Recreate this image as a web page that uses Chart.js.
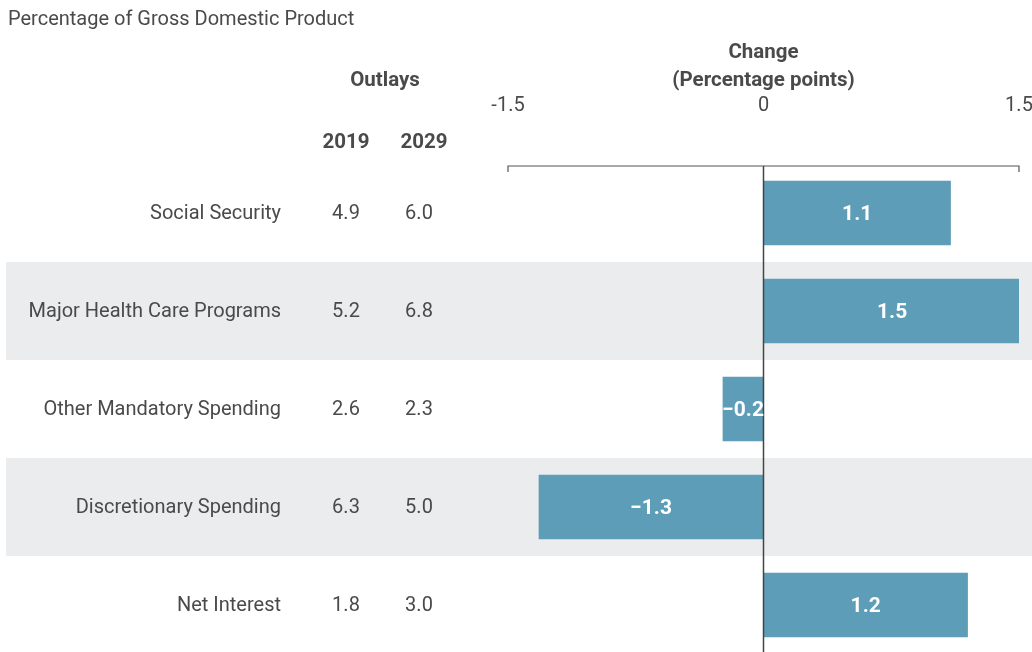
<!DOCTYPE html>
<html>
<head>
<meta charset="utf-8">
<script src="https://cdn.jsdelivr.net/npm/chart.js@4"></script>
<style>
  html, body { margin: 0; padding: 0; background: #fff; overflow: hidden; }
  #wrap { width: 1032px; height: 654px; position: relative; }
</style>
</head>
<body>
<div id="wrap"><canvas id="chart"></canvas></div>
<script>
// data
const categories = ["Social Security", "Major Health Care Programs", "Other Mandatory Spending", "Discretionary Spending", "Net Interest"];
const outlays2019 = ["4.9", "5.2", "2.6", "6.3", "1.8"];
const outlays2029 = ["6.0", "6.8", "2.3", "5.0", "3.0"];
const changeValues = [1.1, 1.51, -0.24, -1.32, 1.2];
const changeLabels = ["1.1", "1.5", "\u22120.2", "\u22121.3", "1.2"];
const tickValues = [-1.5, 0, 1.5];
const tickLabels = ["-1.5", "0", "1.5"];

const TEXT = "#4a4a4a";
const FONT = "Roboto, 'Open Sans', sans-serif";
const BAR = "#5e9db7";
const SHADE = "#ebeced";

// shaded rows behind every other category
const shadePlugin = {
  id: "shade",
  beforeDatasetsDraw(chart) {
    const ctx = chart.ctx;
    const y = chart.scales.y;
    const step = y.getPixelForValue(1) - y.getPixelForValue(0);
    ctx.save();
    ctx.fillStyle = SHADE;
    categories.forEach((c, i) => {
      if (i % 2 == 1) {
        const cy = y.getPixelForValue(i);
        ctx.fillRect(6, cy - step / 2, chart.width - 6, step);
      }
    });
    ctx.restore();
  },
};

// text columns, axis, zero line and bar labels
const tablePlugin = {
  id: "table",
  afterDatasetsDraw(chart) {
    const ctx = chart.ctx;
    const x = chart.scales.x;
    const y = chart.scales.y;
    const top = chart.chartArea.top + 2;
    ctx.save();

    // zero line
    const x0 = x.getPixelForValue(0);
    ctx.strokeStyle = "#444";
    ctx.lineWidth = 1.5;
    ctx.beginPath();
    ctx.moveTo(x0, top);
    ctx.lineTo(x0, chart.height);
    ctx.stroke();

    // top axis line with ticks pointing down
    ctx.strokeStyle = "#555";
    ctx.lineWidth = 1.2;
    ctx.beginPath();
    ctx.moveTo(x.getPixelForValue(-1.5), top + 6);
    ctx.lineTo(x.getPixelForValue(-1.5), top);
    ctx.lineTo(x.getPixelForValue(1.5), top);
    ctx.lineTo(x.getPixelForValue(1.5), top + 6);
    ctx.stroke();

    ctx.textBaseline = "middle";
    ctx.fillStyle = TEXT;
    ctx.font = "20px " + FONT;
    ctx.textAlign = "center";
    tickValues.forEach((v, i) => {
      ctx.fillText(tickLabels[i], x.getPixelForValue(v), 106);
    });

    // title
    ctx.textAlign = "left";
    ctx.fillText("Percentage of Gross Domestic Product", 8, 20);

    // headers
    ctx.font = "bold 20.5px " + FONT;
    ctx.textAlign = "center";
    ctx.fillText("Change", x0, 53);
    ctx.fillText("(Percentage points)", x0, 81);
    ctx.fillText("Outlays", 385, 81);
    ctx.fillText("2019", 346, 143);
    ctx.fillText("2029", 424, 143);

    // rows
    ctx.font = "20px " + FONT;
    categories.forEach((c, i) => {
      const cy = y.getPixelForValue(i) + 1;
      ctx.textAlign = "right";
      ctx.fillText(c, 281, cy);
      ctx.textAlign = "center";
      ctx.fillText(outlays2019[i], 346, cy);
      ctx.fillText(outlays2029[i], 419, cy);
    });

    // bar labels
    ctx.fillStyle = "#fff";
    ctx.font = "bold 21px " + FONT;
    ctx.textAlign = "center";
    const meta = chart.getDatasetMeta(0);
    meta.data.forEach((bar, i) => {
      ctx.fillText(changeLabels[i], (bar.x + bar.base) / 2, bar.y + 2);
    });
    ctx.restore();
  },
};

new Chart(document.getElementById("chart"), {
  type: "bar",
  data: {
    labels: categories,
    datasets: [
      {
        data: changeValues,
        backgroundColor: BAR,
        borderWidth: 0,
        categoryPercentage: 1,
        barPercentage: 0.66,
      },
    ],
  },
  options: {
    indexAxis: "y",
    responsive: true,
    maintainAspectRatio: false,
    animation: false,
    layout: { padding: { left: 508, right: 13, top: 164, bottom: 0 } },
    plugins: {
      legend: { display: false },
      tooltip: { enabled: false },
    },
    scales: {
      x: { display: false, min: -1.5, max: 1.5 },
      y: { display: false },
    },
  },
  plugins: [shadePlugin, tablePlugin],
});
</script>
</body>
</html>
